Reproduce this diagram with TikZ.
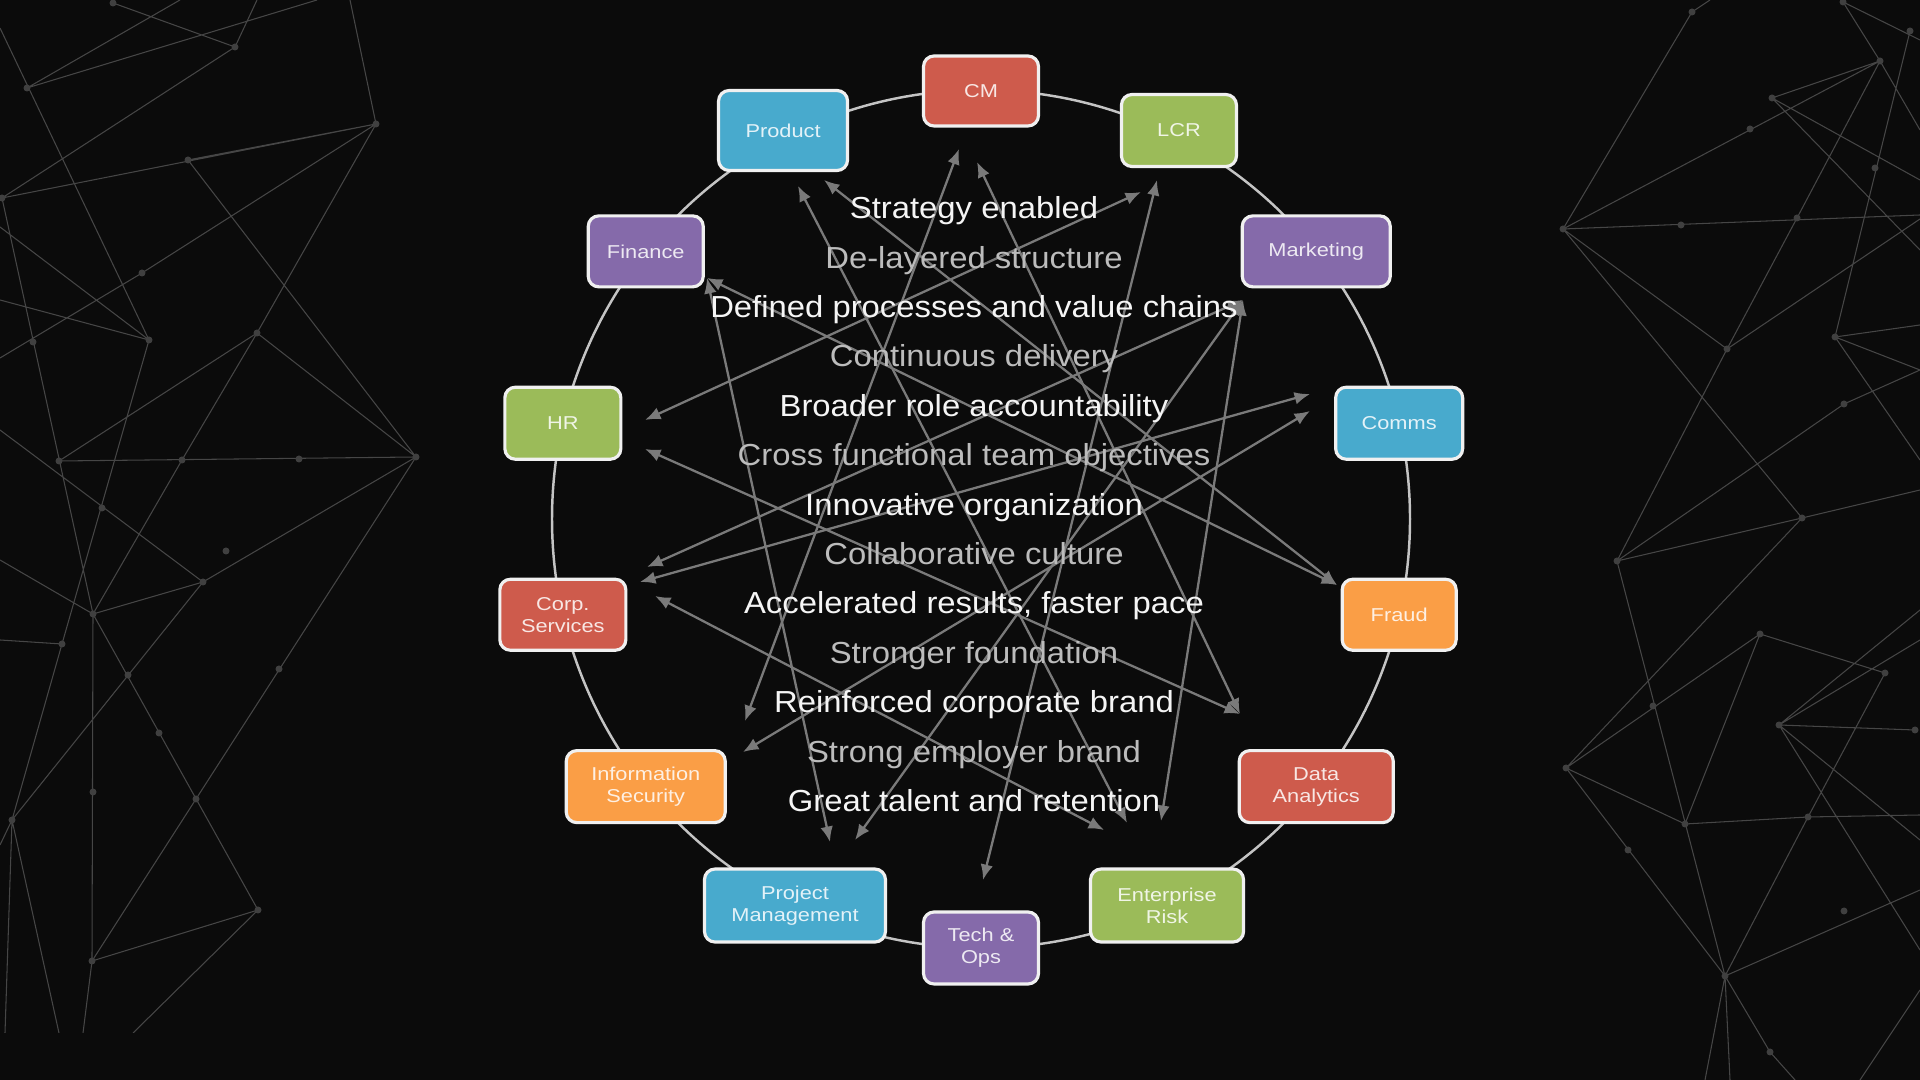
\documentclass[tikz,border=0pt]{standalone}
\usepackage{fontspec}
\setmainfont{Liberation Sans}[FakeStretch=1.17]
\newfontfamily\benefitfont{Liberation Sans}[FakeStretch=1.08]
\usetikzlibrary{arrows.meta}

\definecolor{bgblack}{RGB}{11,11,11}
\definecolor{netgray}{RGB}{70,70,70}
\definecolor{dotgray}{RGB}{64,64,64}
\definecolor{ringgray}{RGB}{196,196,196}
\definecolor{linkgray}{RGB}{122,122,122}
\definecolor{txtwhite}{RGB}{245,245,245}
\definecolor{txtgray}{RGB}{188,188,188}
\definecolor{boxred}{RGB}{206,91,76}
\definecolor{boxblue}{RGB}{72,170,205}
\definecolor{boxgreen}{RGB}{155,187,89}
\definecolor{boxpurple}{RGB}{133,106,170}
\definecolor{boxorange}{RGB}{250,158,70}

\tikzset{
  dept/.style={draw=white!94!black, line width=0.9pt, rounded corners=3pt,
    inner sep=1pt, align=center, font=\fontsize{5.3}{6.3}\selectfont},
  link/.style={linkgray, line width=0.65pt,
    {Latex[length=4.4pt,width=3.6pt]}-{Latex[length=4.4pt,width=3.6pt]}},
  ring/.style={ringgray, line width=0.7pt},
  benefit/.style={font=\benefitfont\fontsize{8.65}{10}\selectfont, inner sep=0pt,
    text height=0.22cm, text depth=0.065cm},
  net/.style={netgray, line width=0.3pt},
}

\begin{document}
\begin{tikzpicture}
\useasboundingbox (0,0) rectangle (19.2,10.8);
\fill[bgblack] (0,0) rectangle (19.2,10.8);

% background network, left
\begin{scope}
\clip (0,0.47) rectangle (19.2,10.8);
\draw[net] (0,10.52) -- (1.49,7.40) -- (0.62,4.36) -- (0.12,2.60)
  (0.27,9.92) -- (1.80,10.8)  (0.27,9.92) -- (3.17,10.8)
  (0.02,8.82) -- (3.76,9.56)  (0.02,8.82) -- (2.35,10.33) -- (2.57,10.8)
  (1.13,10.77) -- (2.35,10.33)  (3.50,10.8) -- (3.76,9.56)
  (1.88,9.20) -- (3.76,9.56)  (1.88,9.20) -- (4.16,6.23)
  (3.76,9.56) -- (2.57,7.47) -- (1.82,6.20) -- (0.93,4.66)
  (0,8.53) -- (1.49,7.40)  (0,7.80) -- (1.49,7.40)
  (0,7.22) -- (1.42,8.07) -- (3.76,9.56)
  (0.02,8.82) -- (0.93,4.66)
  (0.59,6.19) -- (4.16,6.23)  (0.59,6.19) -- (2.57,7.47)
  (0,6.50) -- (2.03,4.98)  (4.16,6.23) -- (2.57,7.47)
  (4.16,6.23) -- (2.03,4.98)  (4.16,6.23) -- (1.96,2.81)
  (2.03,4.98) -- (0.93,4.66)  (2.03,4.98) -- (0.12,2.60)
  (0.62,4.36) -- (0,4.40)  (0,5.20) -- (0.93,4.66)
  (0.93,4.66) -- (2.58,1.70)  (0.93,4.66) -- (0.92,1.19)
  (0.92,1.19) -- (2.58,1.70)  (0.92,1.19) -- (1.96,2.81)
  (0.92,1.19) -- (0.83,0.47)  (2.58,1.70) -- (1.33,0.47)
  (0.12,2.60) -- (0.59,0.47)  (0.12,2.60) -- (0.05,0.47)
  (0.12,2.60) -- (0,2.35);
\end{scope}
\foreach \p in {(0.27,9.92),(1.13,10.77),(2.35,10.33),(3.76,9.56),(1.88,9.20),
  (0.02,8.82),(1.42,8.07),(1.49,7.40),(0.33,7.38),(2.57,7.47),(4.16,6.23),
  (0.59,6.19),(1.82,6.20),(2.99,6.21),(1.02,5.72),(2.26,5.29),(2.03,4.98),
  (0.93,4.66),(0.62,4.36),(1.28,4.05),(2.79,4.11),(1.59,3.47),(0.12,2.60),
  (1.96,2.81),(0.93,2.88),(2.58,1.70),(0.92,1.19)}
  \fill[dotgray] \p circle (0.035);

% background network, right
\begin{scope}
\clip (0,0) rectangle (19.2,10.8);
\draw[net] (15.63,8.51) -- (16.92,10.68) -- (17.10,10.8)
  (15.63,8.51) -- (18.80,10.19)  (15.63,8.51) -- (19.2,8.65)
  (15.63,8.51) -- (17.27,7.31)  (15.63,8.51) -- (18.02,5.62)
  (17.27,7.31) -- (19.2,8.61)  (17.27,7.31) -- (17.97,8.62) -- (18.80,10.19)
  (17.27,7.31) -- (16.17,5.19)  (16.17,5.19) -- (18.02,5.62)
  (16.17,5.19) -- (18.44,6.76) -- (19.2,7.10)
  (16.17,5.19) -- (17.25,1.04)
  (18.35,7.43) -- (19.10,10.49)  (18.35,7.43) -- (19.2,7.55)
  (18.35,7.43) -- (19.2,6.20)  (18.35,7.43) -- (19.2,7.10)
  (17.72,9.82) -- (18.80,10.19)  (17.72,9.82) -- (19.2,9.00)
  (17.72,9.82) -- (19.2,8.30)  (18.80,10.19) -- (18.43,10.78)
  (18.80,10.19) -- (19.2,9.50)  (18.43,10.78) -- (19.2,10.40)
  (18.02,5.62) -- (19.2,5.90)  (18.02,5.62) -- (15.66,3.12)
  (17.60,4.46) -- (15.66,3.12)  (17.60,4.46) -- (16.85,2.56)
  (17.60,4.46) -- (18.85,4.07)
  (17.79,3.55) -- (19.2,4.70)  (17.79,3.55) -- (19.2,4.40)
  (17.79,3.55) -- (19.15,3.50)  (17.79,3.55) -- (19.2,2.40)
  (17.79,3.55) -- (19.2,1.30)
  (15.66,3.12) -- (16.85,2.56)  (15.66,3.12) -- (17.25,1.04)
  (16.85,2.56) -- (18.08,2.63) -- (19.2,2.65)
  (17.25,1.04) -- (18.08,2.63)  (17.25,1.04) -- (19.2,1.90)
  (17.25,1.04) -- (17.05,0)  (17.25,1.04) -- (17.30,0)
  (17.25,1.04) -- (17.70,0.28) -- (17.95,0)
  (18.08,2.63) -- (18.85,4.07)  (19.2,0.90) -- (18.60,0);
\end{scope}
\foreach \p in {(16.92,10.68),(18.43,10.78),(19.10,10.49),(18.80,10.19),
  (17.72,9.82),(17.50,9.51),(18.75,9.12),(15.63,8.51),(16.81,8.55),
  (17.97,8.62),(17.27,7.31),(18.35,7.43),(18.44,6.76),(16.17,5.19),
  (18.02,5.62),(17.60,4.46),(16.53,3.74),(18.85,4.07),(17.79,3.55),
  (19.15,3.50),(15.66,3.12),(16.85,2.56),(18.08,2.63),(16.28,2.30),
  (18.44,1.69),(17.25,1.04),(17.70,0.28)}
  \fill[dotgray] \p circle (0.035);

% ring of departments
\coordinate (hub) at (9.81,5.61);
\draw[ring] (hub) circle (4.29);

% end points of the links
\coordinate (cmA) at (9.59,9.31);   \coordinate (cmB) at (9.77,9.18);
\coordinate (prodA) at (7.98,8.94); \coordinate (prodB) at (8.24,9.00);
\coordinate (lcrA) at (11.41,8.88); \coordinate (lcrB) at (11.57,9.00);
\coordinate (finA) at (7.07,8.02);  \coordinate (mktA) at (12.43,7.80);
\coordinate (hrA) at (6.45,6.60);   \coordinate (hrB) at (6.45,6.31);
\coordinate (commsA) at (13.10,6.86); \coordinate (commsB) at (13.10,6.69);
\coordinate (corpA) at (6.47,5.13); \coordinate (corpB) at (6.40,4.98);
\coordinate (corpC) at (6.55,4.84); \coordinate (fraudA) at (13.37,4.95);
\coordinate (dataA) at (12.40,3.66);
\coordinate (infoA) at (7.45,3.59); \coordinate (infoB) at (7.43,3.28);
\coordinate (pmA) at (8.30,2.38);   \coordinate (pmB) at (8.55,2.40);
\coordinate (techA) at (9.83,2.00);
\coordinate (riskA) at (11.04,2.50); \coordinate (riskB) at (11.27,2.57);
\coordinate (riskC) at (11.61,2.59);

\foreach \u/\v in {cmA/infoA, cmB/dataA, prodA/riskB, prodB/fraudA,
  lcrA/hrA, lcrB/techA, finA/fraudA, finA/pmA, mktA/riskC, mktA/pmB,
  hrB/dataA, corpC/riskA, corpB/commsA, commsB/infoB, corpA/mktA}
  \draw[link] (\u) -- (\v);

% benefits in the middle
\foreach \txt/\c [count=\i from 0] in {
    Strategy enabled/txtwhite,
    De-layered structure/txtgray,
    Defined processes and value chains/txtwhite,
    Continuous delivery/txtgray,
    Broader role accountability/txtwhite,
    Cross functional team objectives/txtgray,
    Innovative organization/txtwhite,
    Collaborative culture/txtgray,
    {Accelerated results, faster pace}/txtwhite,
    Stronger foundation/txtgray,
    Reinforced corporate brand/txtwhite,
    Strong employer brand/txtgray,
    Great talent and retention/txtwhite}
  \node[benefit, text=\c] (benefit\i) at (9.74, {8.69-0.494*\i}) {\txt};

% departments, clockwise from the top
\foreach \ang/\r/\id/\lbl/\col/\w/\h in {
    90/4.28/cm/CM/boxred/1.15/0.70,
    63/4.36/lcr/LCR/boxgreen/1.15/0.72,
    38.6/4.29/mkt/Marketing/boxpurple/1.48/0.71,
    12.9/4.29/comms/Comms/boxblue/1.27/0.72,
    -12.9/4.29/fraud/Fraud/boxorange/1.14/0.71,
    -38.6/4.29/data/{Data\\Analytics}/boxred/1.54/0.72,
    -64.3/4.29/risk/{Enterprise\\Risk}/boxgreen/1.53/0.73,
    -90/4.29/tech/{Tech \&\\Ops}/boxpurple/1.15/0.72,
    -115.7/4.29/pm/{Project\\Management}/boxblue/1.81/0.73,
    -141.4/4.29/infosec/{Information\\Security}/boxorange/1.59/0.72,
    -167.1/4.29/corp/{Corp.\\Services}/boxred/1.26/0.71,
    167.1/4.29/hr/HR/boxgreen/1.16/0.72,
    141.4/4.29/fin/Finance/boxpurple/1.15/0.71,
    117/4.36/prod/Product/boxblue/1.29/0.80}
  \node[dept, fill=\col, text=white!85!\col, minimum width=\w cm,
    minimum height=\h cm] (\id) at ([shift={(\ang:\r)}]hub) {\lbl};
\end{tikzpicture}
\end{document}
